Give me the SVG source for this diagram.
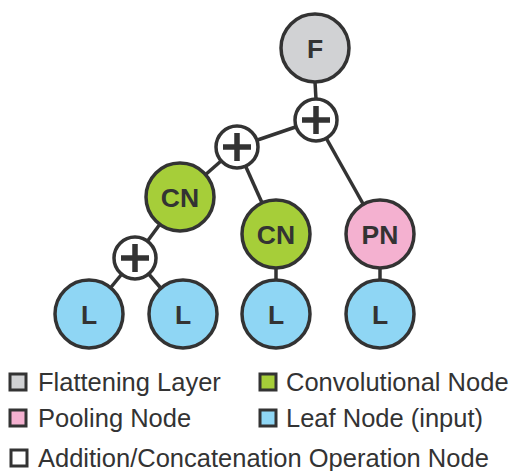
<svg xmlns="http://www.w3.org/2000/svg" width="511" height="471" viewBox="0 0 511 471">
<style>
.n{stroke:#333;stroke-width:3.5}
.f{fill:#d1d2d4}.c{fill:#a6ce39}.p{fill:#f4b1d0}.l{fill:#8fd6f4}.o{fill:#fff}
.t{font-family:"Liberation Sans",Arial,sans-serif;font-weight:bold;font-size:26.5px;fill:#333;text-anchor:middle}
.pl{stroke:#333;stroke-width:5.5;fill:none}
.e{stroke:#333;stroke-width:3.5;fill:none}
.lg{font-family:"Liberation Sans",Arial,sans-serif;font-size:25.5px;fill:#333}
.sq{stroke:#333;stroke-width:3}
</style>
<g id="connectors">
<line class="e" x1="315" y1="82" x2="316" y2="99"/>
<line class="e" x1="316" y1="120" x2="237" y2="147"/>
<line class="e" x1="316" y1="120" x2="380" y2="234"/>
<line class="e" x1="237" y1="147" x2="180" y2="197"/>
<line class="e" x1="237" y1="147" x2="276" y2="234"/>
<line class="e" x1="180" y1="197" x2="135" y2="258"/>
<line class="e" x1="135" y1="258" x2="89" y2="314"/>
<line class="e" x1="135" y1="258" x2="183" y2="314"/>
<line class="e" x1="276" y1="234" x2="276" y2="314"/>
<line class="e" x1="380" y1="234" x2="380" y2="314"/>
</g>
<g id="F"><circle class="n f" cx="315" cy="48" r="34"/><text class="t" x="315" y="57.5">F</text></g>
<g id="add1"><circle class="n o" cx="316" cy="120" r="21"/><path class="pl" d="M302 120H330M316 106V134"/></g>
<g id="add2"><circle class="n o" cx="237" cy="147" r="21"/><path class="pl" d="M223 147H251M237 133V161"/></g>
<g id="CN1"><circle class="n c" cx="180" cy="197" r="34"/><text class="t" x="180" y="206.5">CN</text></g>
<g id="CN2"><circle class="n c" cx="276" cy="234" r="34"/><text class="t" x="276" y="243.5">CN</text></g>
<g id="PN"><circle class="n p" cx="380" cy="234" r="34"/><text class="t" x="380" y="243.5">PN</text></g>
<g id="add3"><circle class="n o" cx="135" cy="258" r="21"/><path class="pl" d="M121 258H149M135 244V272"/></g>
<g id="L1"><circle class="n l" cx="89" cy="314" r="34"/><text class="t" x="89" y="323.5">L</text></g>
<g id="L2"><circle class="n l" cx="183" cy="314" r="34"/><text class="t" x="183" y="323.5">L</text></g>
<g id="L3"><circle class="n l" cx="276" cy="314" r="34"/><text class="t" x="276" y="323.5">L</text></g>
<g id="L4"><circle class="n l" cx="380" cy="314" r="34"/><text class="t" x="380" y="323.5">L</text></g>
<g id="legend">
<rect class="sq f" x="10" y="374" width="16" height="16"/><text class="lg" x="38" y="391">Flattening Layer</text>
<rect class="sq c" x="260" y="374" width="16" height="16"/><text class="lg" x="286" y="391">Convolutional Node</text>
<rect class="sq p" x="10" y="410" width="16" height="16"/><text class="lg" x="38" y="427">Pooling Node</text>
<rect class="sq l" x="260" y="410" width="16" height="16"/><text class="lg" x="286" y="427">Leaf Node (input)</text>
<rect class="sq o" x="11" y="450" width="16" height="16"/><text class="lg" x="38" y="467">Addition/Concatenation Operation Node</text>
</g>
</svg>
